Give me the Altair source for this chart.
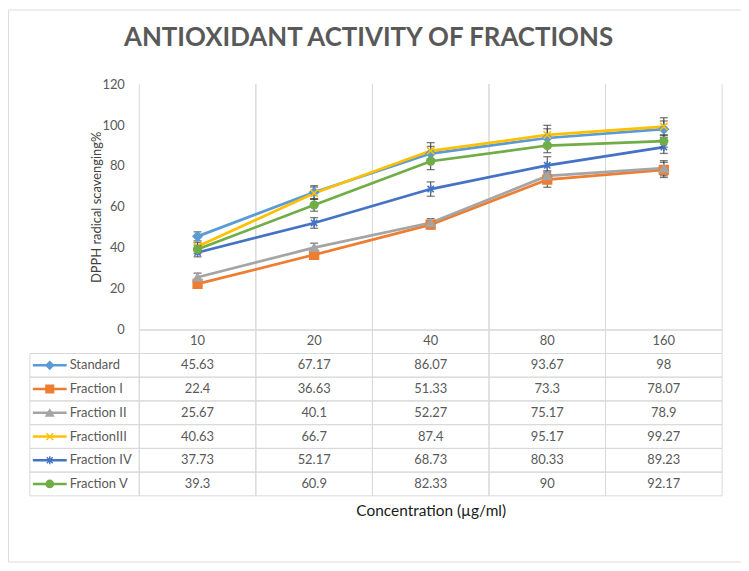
import altair as alt
import pandas as pd

# ---------------- data ----------------
CONC = ["10", "20", "40", "80", "160"]
SERIES = ["Standard", "Fraction I", "Fraction II", "FractionIII", "Fraction IV", "Fraction V"]

STANDARD = [45.63, 67.17, 86.07, 93.67, 98]
FRACTION_I = [22.4, 36.63, 51.33, 73.3, 78.07]
FRACTION_II = [25.67, 40.1, 52.27, 75.17, 78.9]
FRACTION_III = [40.63, 66.7, 87.4, 95.17, 99.27]
FRACTION_IV = [37.73, 52.17, 68.73, 80.33, 89.23]
FRACTION_V = [39.3, 60.9, 82.33, 90, 92.17]

# error bar half-widths
ERR_STANDARD = [2.2, 3.2, 3.5, 4.5, 4.0]
ERR_FRACTION_I = [1.5, 1.8, 2.0, 3.7, 3.7]
ERR_FRACTION_II = [2.0, 2.2, 2.0, 2.5, 3.7]
ERR_FRACTION_III = [2.0, 3.0, 4.0, 4.7, 4.3]
ERR_FRACTION_IV = [2.1, 2.6, 3.5, 4.2, 3.1]
ERR_FRACTION_V = [2.0, 3.0, 4.1, 3.5, 3.0]

VALUES = [STANDARD, FRACTION_I, FRACTION_II, FRACTION_III, FRACTION_IV, FRACTION_V]
ERRORS = [ERR_STANDARD, ERR_FRACTION_I, ERR_FRACTION_II, ERR_FRACTION_III, ERR_FRACTION_IV, ERR_FRACTION_V]

Y_TICKS = [0, 20, 40, 60, 80, 100, 120]

# ---------------- styles ----------------
COLORS = ["#5B9BD5", "#ED7D31", "#A5A5A5", "#FFC000", "#4472C4", "#70AD47"]
SHAPES = [
    "diamond",
    "square",
    "triangle-up",
    "M-0.9,-0.9L0.9,0.9M-0.9,0.9L0.9,-0.9",
    "M-0.8,-0.8L0.8,0.8M-0.8,0.8L0.8,-0.8M0,-1.05L0,1.05",
    "circle",
]
SIZES = [80, 60, 70, 90, 90, 110]
KEY_SIZES = [60, 55, 55, 70, 70, 80]
GRID = "#d9d9d9"
TXT = "#595959"
FONT = "Lato"

rows = []
for s, vals, errs in zip(SERIES, VALUES, ERRORS):
    for c, v, e in zip(CONC, vals, errs):
        rows.append({"series": s, "conc": c, "value": v, "lo": v - e, "hi": v + e})
df = pd.DataFrame(rows)
df_conc = pd.DataFrame({"conc": CONC})
df_series = pd.DataFrame({"series": SERIES})
df_cells = pd.DataFrame([{"row": r, "conc": c} for r in ["header"] + SERIES for c in CONC])

# ---------------- scales & axes ----------------
XS = alt.Scale(type="band", domain=CONC, range=[132, 718], paddingInner=0, paddingOuter=0)
YS = alt.Scale(domain=[0, 120], range=[322, 75], nice=False, zero=False)
RS = alt.Scale(type="band", domain=["header"] + SERIES, range=[322, 489], paddingInner=0, paddingOuter=0)
CS = alt.Scale(domain=SERIES, range=COLORS)
SS = alt.Scale(domain=SERIES, range=SHAPES)
ZS = alt.Scale(domain=SERIES, range=SIZES)

XA = alt.Axis(
    orient="bottom", offset=-233, domain=True, domainColor=GRID, domainWidth=1,
    ticks=False, tickSize=0, grid=False, labelPadding=5, labelFont=FONT, labelFontSize=13,
    labelColor=TXT, labelAngle=0, title="Concentration (µg/ml)", titleFont=FONT,
    titleFontSize=15.5, titleFontWeight="normal", titleColor="#1a1a1a",
    titleBaseline="alphabetic", titleY=187,
)
YA = alt.Axis(
    orient="left", offset=-132, values=Y_TICKS, domain=False, ticks=False, tickSize=0,
    grid=False, labelPadding=15, labelFont=FONT, labelFontSize=13, labelColor=TXT,
    title="DPPH radical scavenging%", titleFont=FONT, titleFontSize=13,
    titleFontWeight="normal", titleColor="#404040", titlePadding=-2,
)


def X(**kw):
    return alt.X("conc:N", scale=XS, axis=XA, **kw)


color = alt.Color("series:N", scale=CS, legend=None)
stroke = alt.Stroke("series:N", scale=CS, legend=None)
shape = alt.Shape("series:N", scale=SS, legend=None)
size = alt.Size("series:N", scale=ZS, legend=None)

# ---------------- plot area ----------------
vlines_l = alt.Chart(df_conc).mark_rule(color=GRID, strokeWidth=1).encode(
    x=X(bandPosition=0),
    y=alt.Y(datum=0, scale=YS, axis=YA),
    y2=alt.Y2(datum=120),
)
vlines_r = alt.Chart(df_conc).mark_rule(color=GRID, strokeWidth=1).encode(
    x=X(bandPosition=1),
    y=alt.Y(datum=0, scale=YS, axis=YA),
    y2=alt.Y2(datum=120),
)
lines = alt.Chart(df).mark_line(strokeWidth=2.75).encode(
    x=X(),
    y=alt.Y("value:Q", scale=YS, axis=YA),
    color=color,
    detail="series:N",
)
err_rules = alt.Chart(df).mark_rule(color="#404040", strokeWidth=1).encode(
    x=X(),
    y=alt.Y("lo:Q", scale=YS, axis=YA),
    y2="hi:Q",
)
err_caps = alt.Chart(df).transform_fold(["lo", "hi"], as_=["k", "cap"]).mark_tick(
    color="#404040", size=8, thickness=1.3
).encode(
    x=X(),
    y=alt.Y("cap:Q", scale=YS, axis=YA),
    detail="series:N",
)
points = alt.Chart(df).mark_point(filled=True, strokeWidth=1.6, opacity=1).encode(
    x=X(),
    y=alt.Y("value:Q", scale=YS, axis=YA),
    color=color, stroke=stroke, shape=shape, size=size,
)
plot = alt.layer(vlines_l, vlines_r, lines, err_rules, err_caps, points)

# ---------------- data table ----------------
cells = alt.Chart(df_cells).mark_rect(fillOpacity=0, stroke=GRID, strokeWidth=1).encode(
    x=X(),
    y=alt.Y("row:N", scale=RS, axis=None),
)
key_cells = alt.Chart(df_series).mark_rect(fillOpacity=0, stroke=GRID, strokeWidth=1).encode(
    x=alt.value(22), x2=alt.value(132),
    y=alt.Y("series:N", scale=RS, axis=None),
)
cell_text = alt.Chart(df).mark_text(font=FONT, fontSize=13, color=TXT, baseline="middle").encode(
    x=X(),
    y=alt.Y("series:N", scale=RS, axis=None),
    text=alt.Text("value:Q", format="~g"),
)
key_line = alt.Chart(df_series).mark_rule(strokeWidth=2.5).encode(
    x=alt.value(25), x2=alt.value(59),
    y=alt.Y("series:N", scale=RS, axis=None),
    color=color,
)
key_point = alt.Chart(df_series).mark_point(filled=True, strokeWidth=1.4, opacity=1).encode(
    x=alt.value(42),
    y=alt.Y("series:N", scale=RS, axis=None),
    color=color, stroke=stroke, shape=shape,
    size=alt.Size("series:N", scale=alt.Scale(domain=SERIES, range=KEY_SIZES), legend=None),
)
key_text = alt.Chart(df_series).mark_text(
    font=FONT, fontSize=13, color=TXT, align="left", baseline="middle"
).encode(
    x=alt.value(62),
    y=alt.Y("series:N", scale=RS, axis=None),
    text="series:N",
)
table = alt.layer(cells, key_cells, cell_text, key_line, key_point, key_text)

chart = (
    alt.layer(plot, table)
    .resolve_scale(y="independent", size="independent")
    .properties(
        width=737,
        height=555,
        padding=0,
        autosize=alt.AutoSizeParams(type="none"),
        title=alt.Title(
            "ANTIOXIDANT ACTIVITY OF FRACTIONS",
            font=FONT, fontSize=26, fontWeight="bold", color=TXT,
            anchor="middle", frame="group", offset=-42, dx=-6,
        ),
    )
    .configure_view(stroke=GRID, strokeWidth=1)
    .configure(background="white")
)

chart.save("out.html", embed_options={"renderer": "svg", "actions": False})
